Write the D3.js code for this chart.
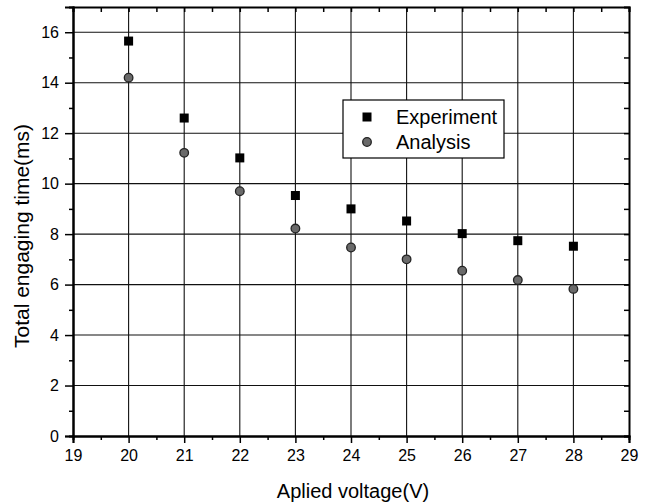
<!DOCTYPE html>
<html>
<head>
<meta charset="utf-8">
<script src="https://cdn.jsdelivr.net/npm/d3@7"></script>
<style>
  body { margin: 0; background: #fff; }
  svg text { font-family: "Liberation Sans", Arial, sans-serif; fill: #000; }
</style>
</head>
<body>
<div id="chart"></div>
<script>
// data
var voltage = [20, 21, 22, 23, 24, 25, 26, 27, 28];
var experiment = [15.65, 12.6, 11.02, 9.53, 9.0, 8.52, 8.02, 7.74, 7.52];
var analysis = [14.2, 11.22, 9.7, 8.22, 7.47, 7.0, 6.55, 6.18, 5.83];
var xTicks = [19, 20, 21, 22, 23, 24, 25, 26, 27, 28, 29];
var yTicks = [0, 2, 4, 6, 8, 10, 12, 14, 16];
var seriesNames = ["Experiment", "Analysis"];

var W = 649, H = 504;
var margin = { top: 7, right: 20, bottom: 68, left: 73 },
    width = W - margin.left - margin.right,
    height = H - margin.top - margin.bottom;

var svg = d3.select("#chart").append("svg")
    .attr("width", W)
    .attr("height", H)
    .append("g")
    .attr("transform", "translate(" + margin.left + "," + margin.top + ")");

var x = d3.scaleLinear().domain([19, 29]).range([0, width]);
var y = d3.scaleLinear().domain([0, 17]).range([height, 0]);

var xMinor = d3.range(19.5, 29, 1);
var yMinor = d3.range(1, 17, 2);

// grid lines
svg.append("g")
    .selectAll("line")
    .data(xTicks.slice(1, -1))
    .enter().append("line")
    .attr("x1", d => x(d)).attr("x2", d => x(d))
    .attr("y1", 0).attr("y2", height)
    .attr("stroke", "#111").attr("stroke-width", 1.1);

svg.append("g")
    .selectAll("line")
    .data(yTicks.slice(1))
    .enter().append("line")
    .attr("x1", 0).attr("x2", width)
    .attr("y1", d => y(d)).attr("y2", d => y(d))
    .attr("stroke", "#111").attr("stroke-width", 1.1);

// axes
var xAxis = svg.append("g")
    .attr("transform", "translate(0," + height + ")")
    .call(d3.axisBottom(x).tickValues(xTicks).tickSize(7).tickPadding(7).tickFormat(d3.format("d")));
var yAxis = svg.append("g")
    .call(d3.axisLeft(y).tickValues(yTicks).tickSize(8).tickPadding(6).tickFormat(d3.format("d")));

// minor ticks
svg.append("g")
    .attr("transform", "translate(0," + height + ")")
    .call(d3.axisBottom(x).tickValues(xMinor).tickSize(4).tickFormat(""));
svg.append("g")
    .call(d3.axisLeft(y).tickValues(yMinor).tickSize(4).tickFormat(""));

// top and right axes, ticks pointing in
svg.append("g")
    .call(d3.axisTop(x).tickValues(xTicks.concat(xMinor)).tickSize(-5).tickFormat(""));
svg.append("g")
    .attr("transform", "translate(" + width + ",0)")
    .call(d3.axisRight(y).tickValues(yTicks.concat(yMinor)).tickSize(-5).tickFormat(""));

svg.selectAll(".domain").attr("stroke", "#000").attr("stroke-width", 2);
svg.selectAll(".tick line").attr("stroke", "#000").attr("stroke-width", 1.5);
xAxis.selectAll("text").attr("font-size", "16px");
yAxis.selectAll("text").attr("font-size", "16px");

// points
svg.append("g").selectAll("rect")
    .data(voltage)
    .enter().append("rect")
    .attr("x", (d, i) => x(d) - 4.5)
    .attr("y", (d, i) => y(experiment[i]) - 4.5)
    .attr("width", 9).attr("height", 9)
    .attr("fill", "#000");

svg.append("g").selectAll("circle")
    .data(voltage)
    .enter().append("circle")
    .attr("cx", (d, i) => x(d))
    .attr("cy", (d, i) => y(analysis[i]))
    .attr("r", 4.3)
    .attr("fill", "#6a6a6a")
    .attr("stroke", "#222")
    .attr("stroke-width", 1.3);

// legend
var legend = svg.append("g")
    .attr("transform", "translate(" + (343 - margin.left) + "," + (100 - margin.top) + ")");
legend.append("rect")
    .attr("width", 161).attr("height", 58)
    .attr("fill", "#fff").attr("stroke", "#000").attr("stroke-width", 1.2);
legend.append("rect")
    .attr("x", 24 - 4.5).attr("y", 17 - 4.5)
    .attr("width", 9).attr("height", 9).attr("fill", "#000");
legend.append("circle")
    .attr("cx", 24).attr("cy", 42).attr("r", 4.3)
    .attr("fill", "#6a6a6a").attr("stroke", "#222").attr("stroke-width", 1.3);
legend.selectAll("text.lg")
    .data(seriesNames)
    .enter().append("text")
    .attr("x", 53)
    .attr("y", (d, i) => 24 + i * 25)
    .attr("font-size", "20px")
    .text(d => d);

// axis titles
svg.append("text")
    .attr("x", width / 2 + 2)
    .attr("y", height + 62)
    .attr("text-anchor", "middle")
    .attr("font-size", "20px")
    .text("Aplied voltage(V)");

svg.append("text")
    .attr("transform", "rotate(-90)")
    .attr("x", -(236 - margin.top))
    .attr("y", -margin.left + 29)
    .attr("text-anchor", "middle")
    .attr("font-size", "21px")
    .text("Total engaging time(ms)");
</script>
</body>
</html>
